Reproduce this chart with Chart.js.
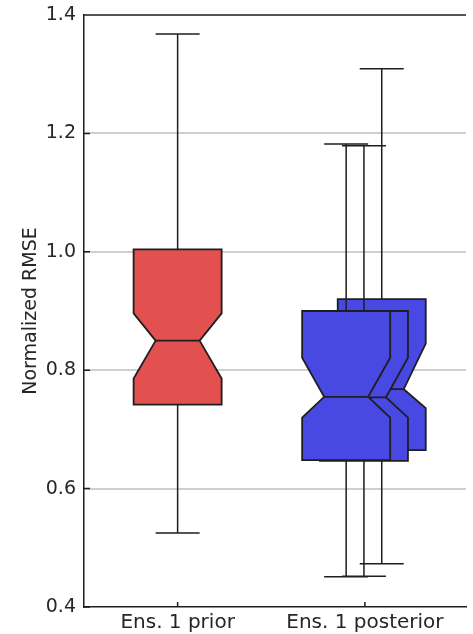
<!DOCTYPE html>
<html><head><meta charset="utf-8">
<script src="https://cdn.jsdelivr.net/npm/chart.js@4/dist/chart.umd.min.js"></script>
<style>html,body{margin:0;padding:0;background:#fff;}</style>
</head><body>
<canvas id="c" width="473" height="634"></canvas>
<script>
// ---- data ----
const categories = ['Ens. 1 prior', 'Ens. 1 posterior'];
const boxCategory = [0, 1, 1, 1];
const whiskerLow  = [0.525, 0.451, 0.452, 0.473];
const q1          = [0.742, 0.648, 0.647, 0.665];
const notchLow    = [0.786, 0.720, 0.720, 0.736];
const median      = [0.850, 0.755, 0.754, 0.768];
const notchHigh   = [0.896, 0.821, 0.821, 0.845];
const q3          = [1.004, 0.900, 0.900, 0.920];
const whiskerHigh = [1.368, 1.182, 1.179, 1.309];
const yTicks = [0.4, 0.6, 0.8, 1.0, 1.2, 1.4];

// ---- style ----
const boxOffset = [0, -0.1, -0.005, 0.09];
const boxFill = ['#e35050', '#4848e2', '#4848e2', '#4848e2'];
const boxHalf = 0.235;
const drawOrder = [3, 2, 1, 0];
const edge = '#1e1e1e';

const boxPlugin = {
  id: 'notchedBoxes',
  beforeDatasetsDraw(chart) {
    const {ctx, scales: {x, y}, chartArea: a} = chart;
    ctx.save();
    ctx.beginPath(); ctx.rect(a.left, a.top, a.right - a.left, a.bottom - a.top); ctx.clip();
    for (const i of drawOrder) {
      const c = boxCategory[i] + 1 + boxOffset[i];
      const xc = x.getPixelForValue(c);
      const xl = x.getPixelForValue(c - boxHalf), xr = x.getPixelForValue(c + boxHalf);
      const xnl = x.getPixelForValue(c - boxHalf / 2), xnr = x.getPixelForValue(c + boxHalf / 2);
      const Y = v => y.getPixelForValue(v);
      ctx.strokeStyle = edge; ctx.lineWidth = 1.5;
      // whiskers
      ctx.beginPath();
      ctx.moveTo(xc, Y(q3[i])); ctx.lineTo(xc, Y(whiskerHigh[i]));
      ctx.moveTo(xc, Y(q1[i])); ctx.lineTo(xc, Y(whiskerLow[i]));
      ctx.moveTo(xnl, Y(whiskerHigh[i])); ctx.lineTo(xnr, Y(whiskerHigh[i]));
      ctx.moveTo(xnl, Y(whiskerLow[i])); ctx.lineTo(xnr, Y(whiskerLow[i]));
      ctx.stroke();
      // notched box
      ctx.beginPath();
      ctx.moveTo(xl, Y(q1[i]));
      ctx.lineTo(xl, Y(notchLow[i]));
      ctx.lineTo(xnl, Y(median[i]));
      ctx.lineTo(xl, Y(notchHigh[i]));
      ctx.lineTo(xl, Y(q3[i]));
      ctx.lineTo(xr, Y(q3[i]));
      ctx.lineTo(xr, Y(notchHigh[i]));
      ctx.lineTo(xnr, Y(median[i]));
      ctx.lineTo(xr, Y(notchLow[i]));
      ctx.lineTo(xr, Y(q1[i]));
      ctx.closePath();
      ctx.fillStyle = boxFill[i];
      ctx.fill();
      ctx.lineJoin = 'miter';
      ctx.lineWidth = 1.8;
      ctx.stroke();
      ctx.beginPath();
      ctx.moveTo(xnl, Y(median[i])); ctx.lineTo(xnr, Y(median[i]));
      ctx.stroke();
    }
    ctx.restore();
  },
  afterDraw(chart) {
    const {ctx, scales: {x, y}, chartArea: a} = chart;
    ctx.save();
    ctx.strokeStyle = edge; ctx.lineWidth = 1.5;
    ctx.beginPath();
    ctx.moveTo(a.left, a.top); ctx.lineTo(a.right, a.top);
    for (const t of y.ticks) {
      const py = y.getPixelForValue(t.value);
      ctx.moveTo(a.left, py); ctx.lineTo(a.left + 6, py);
    }
    for (const t of x.ticks) {
      const px = x.getPixelForValue(t.value);
      ctx.moveTo(px, a.bottom); ctx.lineTo(px, a.bottom - 5);
    }
    ctx.stroke();
    ctx.restore();
  }
};

new Chart(document.getElementById('c'), {
  type: 'scatter',
  data: {
    datasets: [{
      data: median.map((m, i) => ({x: boxCategory[i] + 1, y: m})),
      pointRadius: 0, showLine: false
    }]
  },
  options: {
    responsive: false, animation: false, devicePixelRatio: 1,
    layout: {padding: {left: 0, right: 7, top: 15, bottom: 0}},
    plugins: {legend: {display: false}, tooltip: {enabled: false}},
    scales: {
      x: {
        type: 'linear', min: 0.5, max: 2.54,
        afterFit: s => { s.height = 27; s.paddingLeft = 0; s.paddingRight = 0; },
        afterBuildTicks: s => { s.ticks = categories.map((c, i) => ({value: i + 1})); },
        grid: {display: false, drawTicks: false},
        border: {display: true, color: edge, width: 1.5},
        ticks: {
          padding: 4, color: '#262626', maxRotation: 0, autoSkip: false,
          font: {family: 'DejaVu Sans', size: 20},
          callback: v => categories[Math.round(v) - 1]
        }
      },
      y: {
        min: 0.4, max: 1.4,
        afterFit: s => { s.width = 84; s.paddingTop = 0; s.paddingBottom = 0; },
        afterBuildTicks: s => { s.ticks = yTicks.map(v => ({value: v})); },
        grid: {
          drawTicks: false, lineWidth: 2,
          color: c => (c.tick && (Math.abs(c.tick.value - 0.4) < 1e-6 || Math.abs(c.tick.value - 1.4) < 1e-6)) ? 'rgba(0,0,0,0)' : '#cfcfcf'
        },
        border: {display: true, color: edge, width: 1.5},
        ticks: {
          padding: 8, color: '#262626',
          font: {family: 'DejaVu Sans', size: 19},
          callback: v => v.toFixed(1)
        },
        title: {
          display: true, text: 'Normalized RMSE', color: '#262626',
          font: {family: 'DejaVu Sans', size: 19},
          padding: {top: 20, bottom: 0}
        }
      }
    }
  },
  plugins: [boxPlugin]
});
</script>
</body></html>
